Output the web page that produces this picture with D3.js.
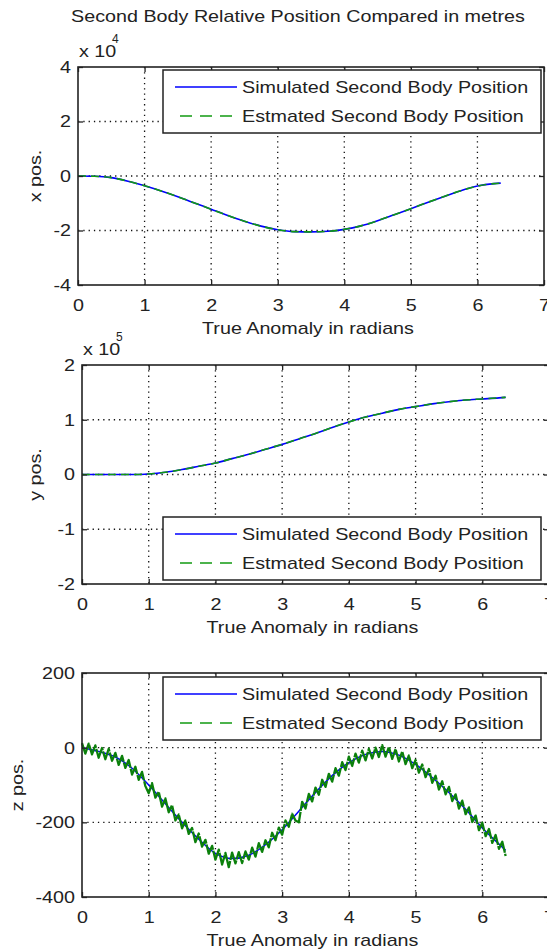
<!DOCTYPE html>
<html>
<head>
<meta charset="utf-8">
<script src="https://cdn.jsdelivr.net/npm/d3@7"></script>
<style>
  body { margin: 0; background: #fff; }
  text { font-family: "Liberation Sans", Arial, sans-serif; fill: #222; }
</style>
</head>
<body>
<div id="chart"></div>
<script>
// true anomaly ticks (radians)
const thetaTicks = [0, 1, 2, 3, 4, 5, 6, 7];

// smooth series sampled every 0.25 rad
const theta = [0, 0.25, 0.5, 0.75, 1, 1.25, 1.5, 1.75, 2, 2.25, 2.5, 2.75, 3, 3.25, 3.5,
  3.75, 4, 4.25, 4.5, 4.75, 5, 5.25, 5.5, 5.75, 6, 6.25, 6.35];

// x position, units of 1e4 m
const xSim = [0, -0.01, -0.06, -0.19, -0.36, -0.55, -0.76, -0.99, -1.22, -1.45, -1.66, -1.84,
  -1.97, -2.04, -2.05, -2.03, -1.96, -1.83, -1.64, -1.42, -1.2, -0.97, -0.75, -0.54, -0.37, -0.28, -0.26];
const xEst = xSim;

// y position, units of 1e5 m
const ySim = [0, 0, 0, 0, 0.01, 0.04, 0.09, 0.15, 0.21, 0.29, 0.37, 0.46, 0.55, 0.65, 0.75,
  0.86, 0.96, 1.05, 1.12, 1.19, 1.24, 1.29, 1.33, 1.36, 1.38, 1.4, 1.41];
const yEst = ySim;

// z position, m
const zSim = [0, -10, -25, -55, -100, -150, -200, -245, -283, -297, -288, -260, -220, -170, -120,
  -75, -40, -18, -10, -20, -45, -80, -120, -165, -215, -258, -275];

// noisy estimate of z, every 0.05 rad from 0 to 6.35
const zEst = [12, -16, 11, -18, 6, -27, -1, -31, -3, -35, -14, -46, -22, -54, -33, -72, -51, -86, -65, -103,
  -122, -95, -134, -118, -158, -136, -173, -154, -195, -179, -216, -195, -231, -215, -253, -230, -265, -247, -284, -263,
  -300, -273, -313, -282, -320, -281, -310, -280, -309, -278, -300, -268, -292, -256, -279, -248, -267, -228, -248, -214,
  -233, -195, -212, -177, -195, -200, -145, -163, -124, -144, -107, -126, -86, -105, -70, -91, -55, -75, -39, -60,
  -24, -49, -16, -40, -8, -34, -3, -29, 0, -25, 7, -24, 2, -30, -4, -37, -10, -44, -21, -55,
  -33, -67, -45, -79, -57, -94, -75, -112, -90, -125, -105, -143, -125, -163, -142, -178, -160, -199, -182, -221,
  -201, -237, -218, -255, -234, -271, -252, -290];
const zEstTheta = zEst.map((d, i) => i * 0.05);

const legendLabels = ["Simulated Second Body Position", "Estmated Second Body Position"];

const W = 547, H = 952, FS = 17, K = 1.16;
const BLUE = "#0000ff", GREEN = "#129a12";

const svg = d3.select("#chart").append("svg")
  .attr("width", W).attr("height", H);

// Helvetica in the picture is wider than Arial, stretch the text a bit
function stretch(sel) {
  sel.each(function () {
    const l = this.getComputedTextLength();
    d3.select(this).attr("textLength", l * K).attr("lengthAdjust", "spacingAndGlyphs");
  });
  return sel;
}

svg.append("text")
  .attr("x", 298).attr("y", 22)
  .attr("text-anchor", "middle").attr("font-size", FS)
  .text("Second Body Relative Position Compared in metres")
  .call(stretch);

function panel(p) {
  const x = d3.scaleLinear().domain([0, 7]).range([p.left, p.right]);
  const y = d3.scaleLinear().domain(p.yDomain).range([p.bottom, p.top]);
  const g = svg.append("g");
  const fmt = d => String(d);

  // dotted grid
  g.append("g").selectAll("line").data(thetaTicks.slice(1, -1)).join("line")
    .attr("x1", d => x(d)).attr("x2", d => x(d))
    .attr("y1", p.top).attr("y2", p.bottom);
  g.append("g").selectAll("line").data(p.yTicks.slice(1, -1)).join("line")
    .attr("x1", p.left).attr("x2", p.right)
    .attr("y1", d => y(d)).attr("y2", d => y(d));
  g.selectAll("g line")
    .attr("stroke", "#111").attr("stroke-width", 1.3).attr("stroke-dasharray", "1.3,4");

  // curves
  p.series.forEach(s => {
    const line = d3.line()
      .x((d, i) => x(s.t[i]))
      .y(d => y(d))
      .curve(s.smooth ? d3.curveMonotoneX : d3.curveLinear);
    g.append("path")
      .datum(s.v)
      .attr("d", line)
      .attr("fill", "none")
      .attr("stroke", s.color)
      .attr("stroke-width", s.width)
      .attr("stroke-linejoin", "round")
      .attr("stroke-dasharray", s.dash || null);
  });

  // frame
  g.append("rect")
    .attr("x", p.left).attr("y", p.top)
    .attr("width", p.right - p.left).attr("height", p.bottom - p.top)
    .attr("fill", "none").attr("stroke", "#222").attr("stroke-width", 1.6);

  // axes, ticks pointing in
  const ax = [
    g.append("g").attr("transform", `translate(0,${p.bottom})`)
      .call(d3.axisBottom(x).tickValues(thetaTicks).tickFormat(fmt).tickSizeInner(-5).tickSizeOuter(0).tickPadding(14)),
    g.append("g").attr("transform", `translate(0,${p.top})`)
      .call(d3.axisTop(x).tickValues(thetaTicks).tickSizeInner(-5).tickSizeOuter(0).tickFormat("")),
    g.append("g").attr("transform", `translate(${p.left},0)`)
      .call(d3.axisLeft(y).tickValues(p.yTicks).tickFormat(fmt).tickSizeInner(-5).tickSizeOuter(0).tickPadding(7)),
    g.append("g").attr("transform", `translate(${p.right},0)`)
      .call(d3.axisRight(y).tickValues(p.yTicks).tickSizeInner(-5).tickSizeOuter(0).tickFormat(""))
  ];
  ax.forEach(a => {
    a.select(".domain").remove();
    a.selectAll(".tick line").attr("stroke", "#222").attr("stroke-width", 1.3);
    a.attr("font-size", FS).attr("font-family", null);
    a.selectAll(".tick text").attr("fill", "#222").call(stretch);
  });

  // exponent
  if (p.exp) {
    g.append("text").attr("x", p.left + 1).attr("y", p.top - 10)
      .attr("font-size", FS).text("x 10").call(stretch);
    g.append("text").attr("x", p.left + 34).attr("y", p.top - 24)
      .attr("font-size", 12).text(p.exp);
  }

  // axis titles
  g.append("text")
    .attr("x", (p.left + p.right) / 2 - 3).attr("y", p.bottom + 49)
    .attr("text-anchor", "middle").attr("font-size", FS)
    .text("True Anomaly in radians").call(stretch);
  g.append("text")
    .attr("transform", `translate(${p.ylabelX},${(p.top + p.bottom) / 2}) rotate(-90)`)
    .attr("dy", "0.35em").attr("text-anchor", "middle").attr("font-size", FS)
    .text(p.ylabel).call(stretch);

  // legend
  const lg = g.append("g").attr("transform", `translate(163,${p.legendTop})`);
  lg.append("rect").attr("width", 378).attr("height", 63)
    .attr("fill", "#fff").attr("stroke", "#222").attr("stroke-width", 1.5);
  const rows = lg.selectAll("g.row").data(legendLabels).join("g")
    .attr("class", "row").attr("transform", (d, i) => `translate(0,${i === 0 ? 17 : 46})`);
  rows.append("line")
    .attr("x1", (d, i) => i === 0 ? 12 : 17).attr("x2", 74)
    .attr("stroke", (d, i) => i === 0 ? BLUE : GREEN)
    .attr("stroke-width", 1.6)
    .attr("stroke-dasharray", (d, i) => i === 0 ? null : "12,8");
  rows.append("text").attr("x", 79).attr("y", 6)
    .attr("font-size", FS).text(d => d).call(stretch);
}

panel({
  left: 78, right: 544, top: 67, bottom: 285,
  yDomain: [-4, 4], yTicks: [-4, -2, 0, 2, 4], exp: "4",
  ylabel: "x pos.", ylabelX: 35, legendTop: 70,
  series: [
    { t: theta, v: xSim, color: BLUE, width: 1.6, smooth: true },
    { t: theta, v: xEst, color: GREEN, width: 1.6, smooth: true, dash: "8,5" }
  ]
});

panel({
  left: 82, right: 549, top: 365, bottom: 584,
  yDomain: [-2, 2], yTicks: [-2, -1, 0, 1, 2], exp: "5",
  ylabel: "y pos.", ylabelX: 35, legendTop: 517,
  series: [
    { t: theta, v: ySim, color: BLUE, width: 1.6, smooth: true },
    { t: theta, v: yEst, color: GREEN, width: 1.6, smooth: true, dash: "8,5" }
  ]
});

panel({
  left: 82, right: 549, top: 673, bottom: 897,
  yDomain: [-400, 200], yTicks: [-400, -200, 0, 200], exp: null,
  ylabel: "z pos.", ylabelX: 17, legendTop: 677,
  series: [
    { t: theta, v: zSim, color: BLUE, width: 1.5, smooth: true },
    { t: zEstTheta, v: zEst, color: "#0b800b", width: 2.3, smooth: false, dash: "22,1" }
  ]
});
</script>
</body>
</html>
